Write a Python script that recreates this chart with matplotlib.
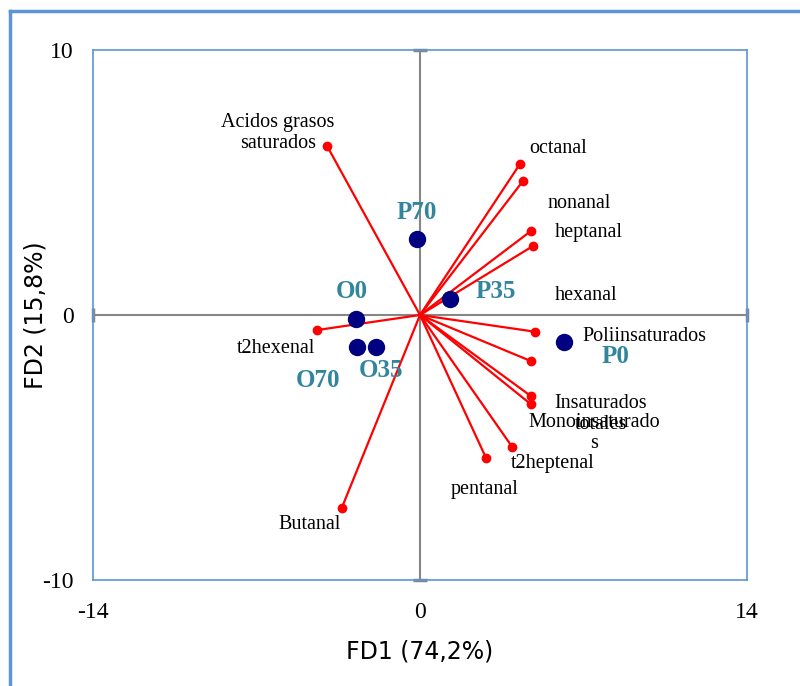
import numpy as np
import matplotlib
matplotlib.use('Agg')
import matplotlib.pyplot as plt
from matplotlib.lines import Line2D

plt.rcParams['axes.unicode_minus'] = False

# variables (vector end points)
var_x = [-3.98, 4.28, 4.42, 4.75, 4.85, 4.92, 4.75, 4.75, 4.75, 3.94, 2.83, -4.42, -3.35]
var_y = [6.38, 5.70, 5.07, 3.17, 2.61, -0.63, -1.74, -3.06, -3.37, -4.97, -5.40, -0.57, -7.28]

# variable labels
var_labels = ['Acidos grasos\nsaturados', 'octanal', 'nonanal', 'heptanal', 'hexanal',
              'Poliinsaturados', 'Insaturados\ntotales', 'Monoinsaturado\ns',
              't2heptenal', 'pentanal', 't2hexenal', 'Butanal']
lab_x = [-6.08, 5.91, 6.81, 7.24, 7.11, 9.59, 7.75, 7.45, 5.69, 2.78, -6.17, -4.71]
lab_y = [6.87, 6.30, 4.19, 3.13, 0.72, -0.83, -3.74, -4.45, -5.62, -6.57, -1.28, -7.89]

# observations
obs_names = ['P70', 'P35', 'O0', 'O70', 'O35', 'P0']
obs_x = [-0.13, 1.28, -2.74, -2.70, -1.88, 6.15]
obs_y = [2.87, 0.60, -0.15, -1.20, -1.20, -1.01]
obs_lx = [-0.13, 3.25, -2.91, -4.37, -1.67, 8.39]
obs_ly = [3.85, 0.87, 0.87, -2.49, -2.11, -1.58]

serif = 'Liberation Serif'
teal = '#31859c'
blue = '#5b95d6'

fig = plt.figure(figsize=(8, 6.86), dpi=100)
ax = fig.add_axes([93/800, 1-580/686, 654/800, 530/686])

# zero axes
ax.axhline(0, color='#868686', lw=1.5, zorder=1)
ax.axvline(0, color='#868686', lw=1.5, zorder=1)
ax.plot([0, 0], [10, -10], ls='none', marker='_', ms=10, mew=2.5, color='#868686', clip_on=False)
ax.plot([-14, 14], [0, 0], ls='none', marker='|', ms=10, mew=2.5, color='#868686', clip_on=False)

for x, y in zip(var_x, var_y):
    ax.plot([0, x], [0, y], color='red', lw=1.6, zorder=2)
ax.plot(var_x, var_y, 'o', color='red', ms=6, zorder=3)

for t, x, y in zip(var_labels, lab_x, lab_y):
    ax.text(x, y, t, ha='center', va='center', fontsize=14.5, family=serif,
            linespacing=1.15, zorder=4)

ax.plot(obs_x, obs_y, 'o', color='#000080', ms=11.5, zorder=5)
for t, x, y in zip(obs_names, obs_lx, obs_ly):
    ax.text(x, y, t, ha='center', va='center', fontsize=18, family=serif,
            fontweight='bold', color=teal, zorder=6)

ax.set_xlim(-14, 14)
ax.set_ylim(-10, 10)
ax.set_xticks([-14, 0, 14])
ax.set_yticks([-10, 0, 10])
ax.tick_params(length=0, labelsize=17)
ax.tick_params(axis='x', pad=16)
ax.tick_params(axis='y', pad=14)
for lab in ax.get_xticklabels() + ax.get_yticklabels():
    lab.set_family(serif)
for s in ax.spines.values():
    s.set_color(blue)
    s.set_linewidth(1.2)

ax.set_xlabel('FD1 (74,2%)', fontsize=17, labelpad=12)
ax.set_ylabel('FD2 (15,8%)', fontsize=17)
ax.yaxis.set_label_coords(-0.07, 0.5)

# outer frame (cropped)
fig.add_artist(Line2D([9.5/800, 9.5/800], [0, 1-11/686], color=blue, lw=2.5))
fig.add_artist(Line2D([9.5/800, 1], [1-11/686, 1-11/686], color=blue, lw=2.5))

fig.savefig('out.png', dpi=100)
